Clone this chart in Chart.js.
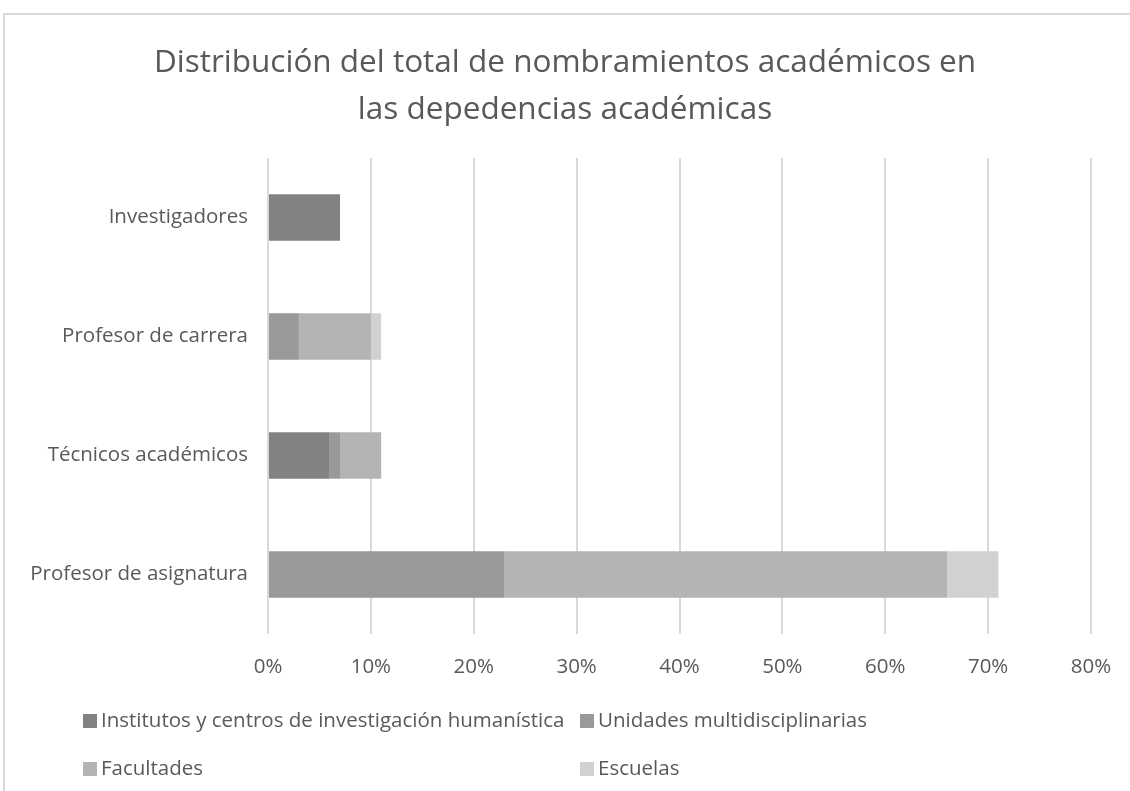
<!DOCTYPE html>
<html>
<head>
<meta charset="utf-8">
<script src="https://cdn.jsdelivr.net/npm/chart.js@4"></script>
<style>
  html, body { margin: 0; padding: 0; background: #fff; overflow: hidden; }
  #wrap { position: relative; width: 1130px; height: 791px; }
  #frame { position: absolute; left: 3px; top: 13px; width: 1300px; height: 900px;
           border: 2px solid #d9d9d9; box-sizing: border-box; }
  #chartXML { position: absolute; left: 0; top: 0; }
  .leg { position: absolute; font-family: "Open Sans", sans-serif; font-size: 20.5px;
         color: #595959; white-space: nowrap; line-height: 24px; }
  .leg i { display: inline-block; width: 14px; height: 14px; margin-right: 4px;
           vertical-align: -1px; }
</style>
</head>
<body>
<div id="wrap">
  <div id="frame"></div>
  <canvas id="chartXML" width="1130" height="791"></canvas>
  <div id="legend"></div>
</div>
<script>
// Daten
const categorias = ['Investigadores', 'Profesor de carrera', 'Técnicos académicos', 'Profesor de asignatura'];
const series = ['Institutos y centros de investigación humanística', 'Unidades multidisciplinarias', 'Facultades', 'Escuelas'];
const institutos = [7, 0, 6, 0];
const unidades = [0, 3, 1, 23];
const facultades = [0, 7, 4, 43];
const escuelas = [0, 1, 0, 5];
const ticksX = [0, 10, 20, 30, 40, 50, 60, 70, 80];
const colores = ['#828282', '#999999', '#b4b4b4', '#d1d1d1'];

const textColor = '#595959';
const fontFam = '"Open Sans", sans-serif';

/**
 * initChart: baut das gestapelte Balkendiagramm
 */
function initChart() {
  const ctx = document.getElementById('chartXML').getContext('2d');
  const werte = [institutos, unidades, facultades, escuelas];
  const myChart = new Chart(ctx, {
    type: 'bar',
    data: {
      labels: categorias,
      datasets: series.map((name, i) => ({
        label: name,
        data: werte[i],
        backgroundColor: colores[i],
        borderWidth: 0,
        barPercentage: 0.39,
        categoryPercentage: 1
      }))
    },
    options: {
      indexAxis: 'y',
      responsive: false,
      animation: false,
      layout: { padding: { top: 16, right: 0, bottom: 97, left: 0 } },
      plugins: {
        legend: { display: false },
        tooltip: { enabled: false },
        title: {
          display: true,
          text: ['Distribución del total de nombramientos académicos en', 'las depedencias académicas'],
          color: textColor,
          font: { family: fontFam, size: 31.5, weight: 'normal', lineHeight: 47 / 31.5 },
          padding: { top: 24, bottom: 24 }
        }
      },
      scales: {
        x: {
          stacked: true,
          min: 0,
          max: 80,
          afterBuildTicks: (scale) => { scale.ticks = ticksX.map(v => ({ value: v })); },
          afterFit: (scale) => {
            scale.height = 60;
            scale.paddingLeft = 0;
            scale.paddingRight = 39;
          },
          ticks: {
            color: textColor,
            font: { family: fontFam, size: 20.5 },
            padding: 21,
            maxRotation: 0,
            callback: (v) => v + '%'
          },
          grid: { color: '#d9d9d9', lineWidth: 2, drawTicks: false },
          border: { display: false }
        },
        y: {
          stacked: true,
          afterFit: (scale) => { scale.width = 268; },
          ticks: {
            color: textColor,
            font: { family: fontFam, size: 20.5 },
            padding: 20
          },
          grid: { display: false, drawTicks: false },
          border: { display: false }
        }
      }
    }
  });
  return myChart;
}

/**
 * buildLegend: Legende in zwei Spalten wie im Original
 */
function buildLegend(chart) {
  const box = document.getElementById('legend');
  const pos = [[83, 707], [580, 707], [83, 755], [580, 755]];
  chart.data.datasets.forEach((ds, i) => {
    const d = document.createElement('div');
    d.className = 'leg';
    d.style.left = pos[i][0] + 'px';
    d.style.top = pos[i][1] + 'px';
    d.innerHTML = '<i style="background:' + ds.backgroundColor + '"></i>' + ds.label;
    box.appendChild(d);
  });
}

const chart = initChart();
buildLegend(chart);
</script>
</body>
</html>
